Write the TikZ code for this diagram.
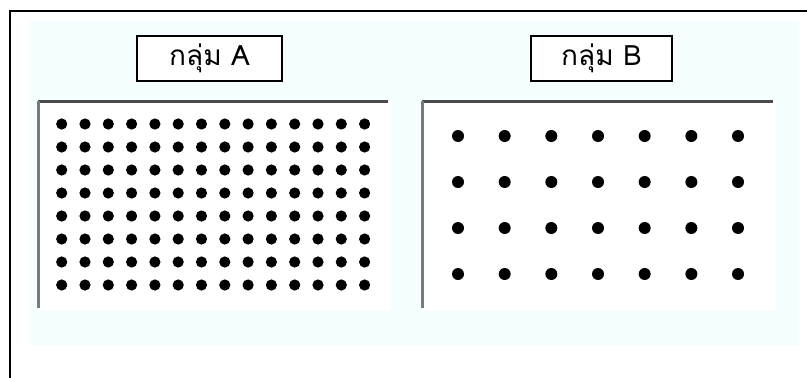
\documentclass[tikz,border=0pt]{standalone}
\usepackage{fontspec}
\newfontfamily\thaifont[Script=Thai]{Loma}
\definecolor{bgcyan}{HTML}{F4FEFE}
\definecolor{axisgray}{HTML}{4A4A4A}
\definecolor{axisgrayL}{HTML}{7A7A7A}
\begin{document}
\begin{tikzpicture}[x=1pt,y=-1pt,
  labelbox/.style={draw=black,line width=1.3pt,fill=white,minimum width=145pt,minimum height=45pt,inner sep=0pt,font=\thaifont\fontsize{28}{30}\selectfont},
  panelline/.style={draw=axisgray,line width=3pt},
  dotA/.style={fill=black,radius=5.6pt},
  dotB/.style={fill=black,radius=6pt}]
\useasboundingbox (0,0) rectangle (807,378);
\fill[white] (0,0) rectangle (807,378);
% outer frame (top and left)
\coordinate (fTL) at (10,11);
\coordinate (fTR) at (807,11);
\coordinate (fBL) at (10,378);
\draw[line width=2.2pt] (fTR) -- (fTL) -- (fBL);
% light background
\fill[bgcyan] (30,21) rectangle (799,345);
% labels
\node[labelbox] (la) at (209.5,58.5) {กลุ่ม A};
\node[labelbox,minimum width=141pt] (lb) at (601.5,58.5) {กลุ่ม B};
% panel A
\fill[white] (38,101) rectangle (391,311);
\coordinate (aTR) at (388,101);
\coordinate (aTL) at (38,101);
\coordinate (aBL) at (38,308);
\draw[panelline] (aTR) -- (aTL);
\draw[panelline,draw=axisgrayL] (aTL) -- (aBL);
\foreach \i in {0,...,13}{
  \foreach \j in {0,...,7}{
    \fill[dotA] (61.7+23.3*\i,124+23*\j) circle;
  }
}
% panel B
\fill[white] (422,101) rectangle (776,311);
\coordinate (bTR) at (773,101);
\coordinate (bTL) at (422,101);
\coordinate (bBL) at (422,308);
\draw[panelline] (bTR) -- (bTL);
\draw[panelline,draw=axisgrayL] (bTL) -- (bBL);
\foreach \i in {0,...,6}{
  \foreach \j in {0,...,3}{
    \fill[dotB] (458+46.67*\i,136+46*\j) circle;
  }
}
\end{tikzpicture}
\end{document}
